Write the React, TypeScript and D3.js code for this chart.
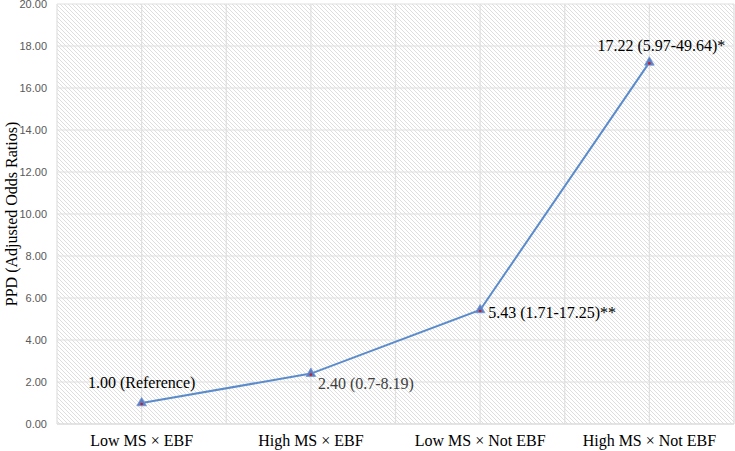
import React from "react";
import * as d3 from "d3";

const categories = ["Low MS × EBF", "High MS × EBF", "Low MS × Not EBF", "High MS × Not EBF"];
const values = [1.0, 2.4, 5.43, 17.22];
const pointLabels = ["1.00 (Reference)", "2.40 (0.7-8.19)", "5.43 (1.71-17.25)**", "17.22 (5.97-49.64)*"];
const labelPos = ["above", "belowRight", "right", "aboveRight"];
const yTicks = [0, 2, 4, 6, 8, 10, 12, 14, 16, 18, 20];
const yTitle = "PPD (Adjusted Odds Ratios)";

export default function App() {
  const W = 735, H = 451;
  const left = 57, right = 734, top = 4, bottom = 424;
  const x = d3.scalePoint<string>().domain(categories).range([left, right]).padding(0.5);
  const step = x.step();
  const y = d3.scaleLinear().domain([0, 20]).range([bottom, top]);
  const line = d3.line<number>().x((_, i) => x(categories[i])!).y((d) => y(d));
  const vgrid: number[] = [];
  for (let i = 0; i <= categories.length * 2; i++) vgrid.push(left + (i * step) / 2);
  const tri = d3.symbol(d3.symbolTriangle, 40)();
  const serif = "Liberation Serif, Times New Roman, serif";

  return (
    <svg width={W} height={H} style={{ position: "absolute", left: 0, top: 0 }}>
      <defs>
        <pattern id="hatch" patternUnits="userSpaceOnUse" width={4} height={4}>
          <rect width={4} height={4} fill="#ffffff" />
          <path d="M-1,-1 L5,5 M-1,3 L1,5 M3,-1 L5,1" stroke="#dedede" strokeWidth={1} />
        </pattern>
      </defs>
      <rect x={0} y={0} width={W} height={H} fill="#ffffff" />
      <rect x={left} y={top} width={right - left} height={bottom - top} fill="url(#hatch)" />
      {yTicks.map((t) => (
        <line key={"h" + t} x1={left} x2={right} y1={y(t)} y2={y(t)} stroke="#e0e0e0" strokeWidth={1.2} />
      ))}
      {vgrid.map((gx, i) => (
        <line key={"v" + i} x1={gx} x2={gx} y1={top} y2={bottom} stroke="#e0e0e0" strokeWidth={1.2} />
      ))}
      <line x1={left} x2={right} y1={bottom} y2={bottom} stroke="#d9d9d9" strokeWidth={1.2} />
      {yTicks.map((t) => (
        <text key={"t" + t} x={47} y={y(t)} dy="0.35em" textAnchor="end" fontFamily="Liberation Sans, Arial, sans-serif" fontSize={11} fill="#595959">
          {t.toFixed(2)}
        </text>
      ))}
      {categories.map((c) => (
        <text key={c} x={x(c)!} y={446} textAnchor="middle" fontFamily={serif} fontSize={16} fill="#000">
          {c}
        </text>
      ))}
      <text transform={`translate(17,${(top + bottom) / 2}) rotate(-90)`} textAnchor="middle" fontFamily={serif} fontSize={16} fill="#000">
        {yTitle}
      </text>
      <path d={line(values)!} fill="none" stroke="#5a8bcb" strokeWidth={2} />
      {values.map((v, i) => (
        <g key={"m" + i} transform={`translate(${x(categories[i])},${y(v)})`}>
          <path d={tri!} fill="#5b7fc4" stroke="#7193d2" strokeWidth={0.8} />
          <circle r={1.3} cy={1} fill="#c0202a" />
        </g>
      ))}
      {values.map((v, i) => {
        const px = x(categories[i])!;
        const py = y(v);
        const pos = labelPos[i];
        let tx = px, ty = py, anchor: "start" | "middle" = "middle";
        if (pos === "above") { ty = py - 15; }
        else if (pos === "aboveRight") { tx = px + 12; ty = py - 11; }
        else if (pos === "right") { tx = px + 8; ty = py + 8; anchor = "start"; }
        else { tx = px + 7; ty = py + 15; anchor = "start"; }
        return (
          <text key={"l" + i} x={tx} y={ty} textAnchor={anchor} fontFamily={serif} fontSize={16} fill={i === 1 ? "#404040" : "#000"}>
            {pointLabels[i]}
          </text>
        );
      })}
    </svg>
  );
}
